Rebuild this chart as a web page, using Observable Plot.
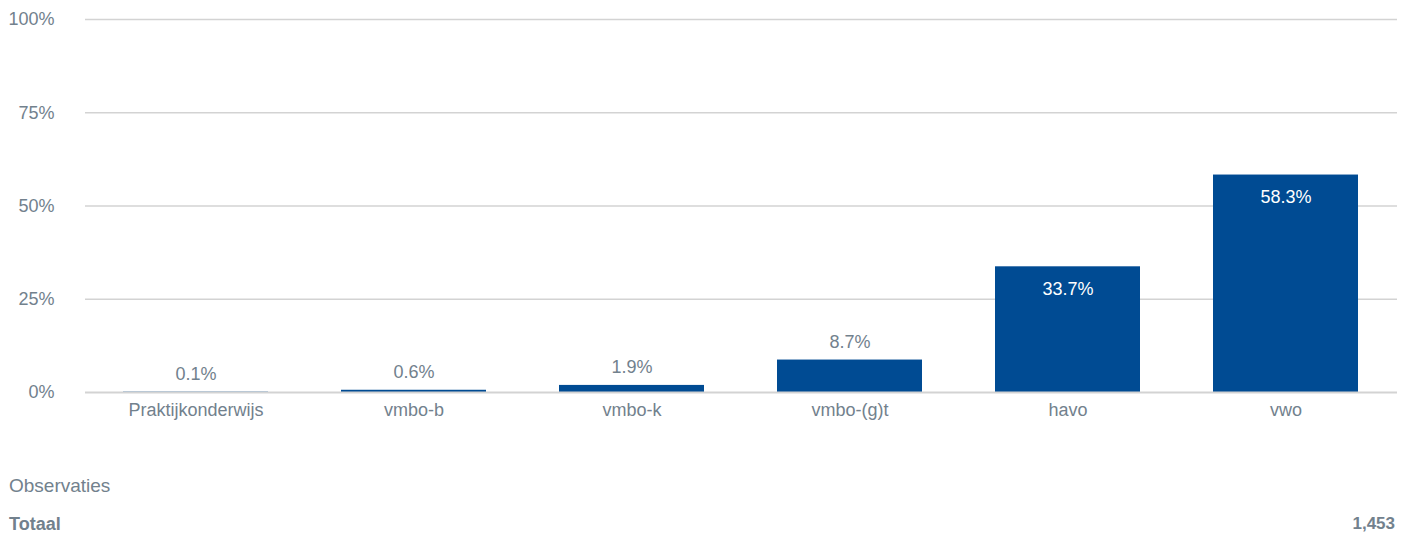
<!DOCTYPE html>
<html>
<head>
<meta charset="utf-8">
<script src="https://cdn.jsdelivr.net/npm/d3@7"></script>
<script src="https://cdn.jsdelivr.net/npm/@observablehq/plot@0.6"></script>
<style>
  html, body { margin: 0; padding: 0; background: #fff; }
  #wrap { position: relative; width: 1406px; height: 538px; font-family: "Liberation Sans", Arial, sans-serif; color: #72818d; }
  #chart { position: absolute; left: 0; top: 0; }
  .foot { position: absolute; font-size: 17px; line-height: 18px; }
</style>
</head>
<body>
<div id="wrap">
  <div id="chart"></div>
  <div class="foot" style="left:9px; top:477px; font-size:19px;">Observaties</div>
  <div class="foot" style="left:9px; top:515px; font-weight:bold; font-size:18px;">Totaal</div>
  <div class="foot" style="right:11px; top:515px; font-weight:bold;" id="total"></div>
</div>
<script>
const categories = ["Praktijkonderwijs", "vmbo-b", "vmbo-k", "vmbo-(g)t", "havo", "vwo"];
const values = [0.1, 0.6, 1.9, 8.7, 33.7, 58.3];
const yTicks = [0, 25, 50, 75, 100];
const totalObservations = "1,453";

const data = categories.map((c, i) => ({category: c, value: values[i]}));
const textColor = "#72818d";
const barColor = "#004b93";

const chart = Plot.plot({
  width: 1406,
  height: 432,
  marginLeft: 85,
  marginRight: 9,
  marginTop: 19,
  marginBottom: 40,
  style: {fontFamily: "'Liberation Sans', Arial, sans-serif", fontSize: "18px", color: textColor, background: "#fff"},
  x: {domain: categories, paddingInner: 0.333, paddingOuter: 0.1667, label: null, tickSize: 0, tickPadding: 11},
  y: {domain: [0, 100], ticks: yTicks, tickFormat: d => d + "%", label: null, tickSize: 0, tickPadding: 31},
  marks: [
    Plot.ruleY(yTicks.filter(t => t > 0), {stroke: "#d3d3d3", strokeWidth: 1.5}),
    Plot.barY(data, {x: "category", y: "value", fill: barColor}),
    Plot.ruleY([0], {stroke: "#d3d3d3", strokeWidth: 2}),
    Plot.text(data.filter(d => d.value < 20), {x: "category", y: "value", text: d => d.value.toFixed(1) + "%", dy: -18, fill: textColor, fontSize: 18}),
    Plot.text(data.filter(d => d.value >= 20), {x: "category", y: "value", text: d => d.value.toFixed(1) + "%", dy: 22, fill: "#ffffff", fontSize: 18}),
    Plot.axisX({tickSize: 0, tickPadding: 11, fill: textColor, fontSize: 18}),
    Plot.axisY({ticks: yTicks, tickFormat: d => d + "%", tickSize: 0, tickPadding: 31, fill: textColor, fontSize: 18})
  ]
});
document.getElementById("chart").appendChild(chart);
document.getElementById("total").textContent = totalObservations;
</script>
</body>
</html>
